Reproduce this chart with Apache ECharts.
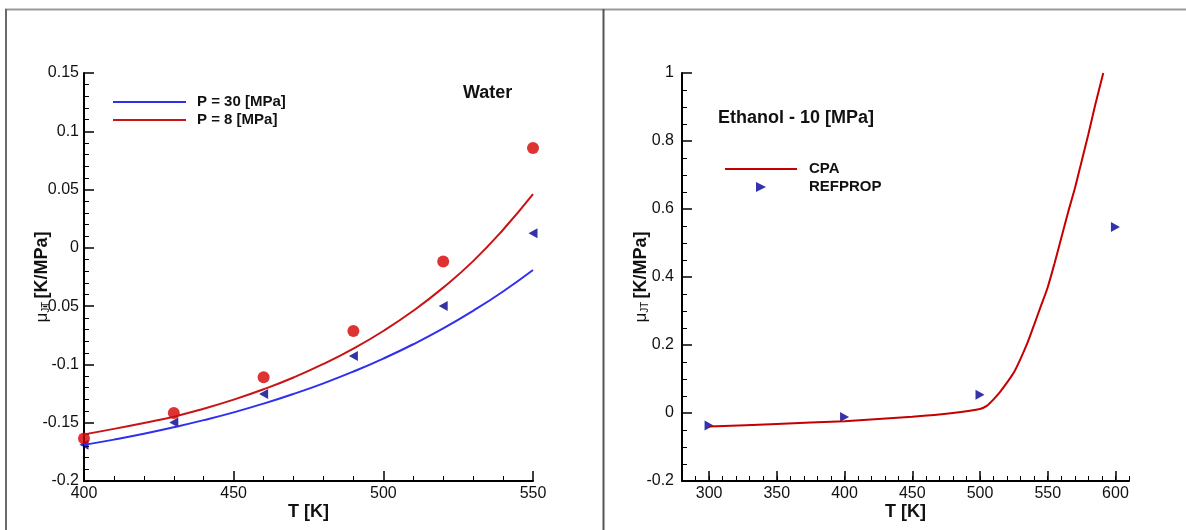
<!DOCTYPE html>
<html>
<head>
<meta charset="utf-8">
<script src="https://cdn.jsdelivr.net/npm/echarts@6/dist/echarts.min.js"></script>
<style>
html,body{margin:0;padding:0;background:#fff;}
#c{width:1186px;height:530px;}
</style>
</head>
<body>
<div id="c"></div>
<script>
// ---------- Data ----------
// Water, left panel
const waterLineT = [400,410,420,430,440,450,460,470,480,490,500,510,520,530,540,550];
const waterLine30 = [-0.169,-0.1645,-0.1595,-0.1539,-0.1478,-0.1411,-0.1336,-0.1253,-0.1162,-0.1061,-0.0950,-0.0827,-0.0691,-0.0540,-0.0374,-0.0190];
const waterLine8 = [-0.160,-0.1553,-0.1502,-0.1448,-0.1380,-0.1302,-0.1213,-0.1112,-0.0996,-0.0864,-0.0713,-0.0540,-0.0341,-0.0114,0.0155,0.046];
const waterRefT = [400,430,460,490,520,550];
const waterRef30 = [-0.169,-0.1498,-0.1254,-0.0928,-0.0499,0.0125];
const waterRef8 = [-0.1636,-0.1416,-0.1109,-0.0714,-0.0118,0.0856];

// Ethanol 10 MPa, right panel
const cpaT = [300,350,400,450,480,500,505,510,515,520,525,530,535,540,545,550,555,560,565,570,575,580,585,591];
const cpaMu = [-0.040,-0.032,-0.024,-0.011,0.000,0.012,0.021,0.040,0.063,0.090,0.119,0.160,0.206,0.260,0.315,0.370,0.440,0.515,0.590,0.660,0.740,0.820,0.905,1.0];
const refpropT = [300,400,500,600];
const refpropMu = [-0.037,-0.012,0.054,0.547];

// Tick labels
const ethanolXLabels = [300,350,400,450,500,550,600];

// Legend / series names
const leftNames = ['P = 30 [MPa]','P = 8 [MPa]'];
const rightNames = ['CPA','REFPROP'];

const zip = (a,b) => a.map((v,i) => [v,b[i]]);

const FONT = '"Liberation Sans", Arial, Helvetica, sans-serif';
const fmt = v => String(Math.round(v*100)/100);

const axisLineStyle = {show:true, onZero:false, lineStyle:{color:'#000', width:2}};
const labelStyle = (margin) => ({color:'#111', fontSize:16, fontFamily:FONT, margin:margin});
const yName = '{mu|μ}{sub|JT} {b|[K/MPa]}';
const yNameStyle = {
  color:'#111', fontFamily:FONT,
  rich:{
    mu:{fontSize:17, fontFamily:FONT, color:'#111', lineHeight:22, verticalAlign:'bottom'},
    sub:{fontSize:10, fontFamily:FONT, color:'#111', lineHeight:14, verticalAlign:'bottom'},
    b:{fontSize:18, fontWeight:'bold', fontFamily:FONT, color:'#111', lineHeight:22, verticalAlign:'bottom'}
  }
};
const xNameStyle = {color:'#111', fontSize:18, fontWeight:'bold', fontFamily:FONT};
const hiddenSym = {opacity:0};

const chart = echarts.init(document.getElementById('c'), null, {renderer:'canvas'});

const option = {
  backgroundColor:'#fff',
  animation:false,
  title:[
    {text:'Water', left:463, top:84, padding:0, textStyle:{fontSize:18, fontWeight:'bold', color:'#111', fontFamily:FONT}},
    {text:'Ethanol - 10 [MPa]', left:718, top:109, padding:0, textStyle:{fontSize:18, fontWeight:'bold', color:'#111', fontFamily:FONT}}
  ],
  grid:[
    {left:84, top:73, width:449, height:408, outerBoundsMode:'none'},
    {left:682, top:73, width:447, height:408, outerBoundsMode:'none'}
  ],
  legend:[
    {
      data:leftNames.map(n => ({name:n, itemStyle:hiddenSym})),
      orient:'vertical', left:112, top:93, padding:0,
      itemWidth:73, itemHeight:10, itemGap:0, selectedMode:false,
      textStyle:{fontSize:15, fontWeight:'bold', color:'#111', fontFamily:FONT, lineHeight:18, padding:[0,0,0,6]}
    },
    {
      data:[{name:rightNames[0], itemStyle:hiddenSym}, {name:rightNames[1]}],
      orient:'vertical', left:724, top:160, padding:0,
      itemWidth:72, itemHeight:10, itemGap:0, selectedMode:false,
      textStyle:{fontSize:15, fontWeight:'bold', color:'#111', fontFamily:FONT, lineHeight:18, padding:[0,0,0,7]}
    }
  ],
  xAxis:[
    {
      gridIndex:0, type:'value', position:'bottom', min:400, max:550, interval:50,
      axisLine:axisLineStyle,
      axisTick:{show:true, inside:true, length:10, lineStyle:{color:'#000', width:1.5}},
      minorTick:{show:true, splitNumber:5, length:5, lineStyle:{color:'#000', width:1}},
      splitLine:{show:false}, minorSplitLine:{show:false},
      axisLabel:Object.assign(labelStyle(5), {formatter:fmt}),
      name:'T [K]', nameLocation:'middle', nameGap:22, nameMoveOverlap:false, nameTextStyle:xNameStyle
    },
    {
      gridIndex:1, type:'value', position:'bottom', min:280, max:610, interval:10,
      axisLine:axisLineStyle,
      axisTick:{show:true, inside:true, length:5, lineStyle:{color:'#000', width:1}},
      splitLine:{show:false},
      axisLabel:Object.assign(labelStyle(5), {customValues:ethanolXLabels, formatter:fmt}),
      name:'T [K]', nameLocation:'middle', nameGap:22, nameMoveOverlap:false, nameTextStyle:xNameStyle
    },
    {
      gridIndex:1, type:'value', position:'bottom', offset:0, min:280, max:610,
      axisLine:{show:false, onZero:false},
      axisTick:{show:true, inside:true, length:10, customValues:ethanolXLabels, lineStyle:{color:'#000', width:1.5}},
      axisLabel:{show:false},
      splitLine:{show:false}
    }
  ],
  yAxis:[
    {
      gridIndex:0, type:'value', min:-0.2, max:0.15, interval:0.05,
      axisLine:axisLineStyle,
      axisTick:{show:true, inside:true, length:10, lineStyle:{color:'#000', width:1.5}},
      minorTick:{show:true, splitNumber:5, length:5, lineStyle:{color:'#000', width:1}},
      splitLine:{show:false}, minorSplitLine:{show:false},
      axisLabel:Object.assign(labelStyle(5), {formatter:fmt}),
      name:yName, nameLocation:'middle', nameRotate:90, nameGap:33, nameMoveOverlap:false, nameTextStyle:yNameStyle
    },
    {
      gridIndex:1, type:'value', min:-0.2, max:1, interval:0.2,
      axisLine:axisLineStyle,
      axisTick:{show:true, inside:true, length:10, lineStyle:{color:'#000', width:1.5}},
      minorTick:{show:true, splitNumber:4, length:5, lineStyle:{color:'#000', width:1}},
      splitLine:{show:false}, minorSplitLine:{show:false},
      axisLabel:Object.assign(labelStyle(8), {formatter:fmt}),
      name:yName, nameLocation:'middle', nameRotate:90, nameGap:32, nameMoveOverlap:false, nameTextStyle:yNameStyle
    }
  ],
  series:[
    {
      name:leftNames[0], type:'line', xAxisIndex:0, yAxisIndex:0,
      data:zip(waterLineT, waterLine30), symbol:'none', smooth:true,
      color:'#2f2ff0', lineStyle:{color:'#2f2ff0', width:2}
    },
    {
      name:leftNames[1], type:'line', xAxisIndex:0, yAxisIndex:0,
      data:zip(waterLineT, waterLine8), symbol:'none', smooth:true,
      color:'#c81414', lineStyle:{color:'#c81414', width:2}
    },
    {
      name:'REFPROP 30 MPa', type:'scatter', xAxisIndex:0, yAxisIndex:0,
      data:zip(waterRefT, waterRef30),
      symbol:'path://M10,0 L0,5 L10,10 Z', symbolSize:[9,10],
      itemStyle:{color:'#00008e'}
    },
    {
      name:'REFPROP 8 MPa', type:'scatter', xAxisIndex:0, yAxisIndex:0,
      data:zip(waterRefT, waterRef8),
      symbol:'circle', symbolSize:12,
      itemStyle:{color:'#d60000'}
    },
    {
      name:rightNames[0], type:'line', xAxisIndex:1, yAxisIndex:1,
      data:zip(cpaT, cpaMu), symbol:'none', smooth:0.25,
      color:'#c40000', lineStyle:{color:'#c40000', width:2}
    },
    {
      name:rightNames[1], type:'scatter', xAxisIndex:1, yAxisIndex:1,
      data:zip(refpropT, refpropMu),
      symbol:'path://M0,0 L10,5 L0,10 Z', symbolSize:[9,10], symbolKeepAspect:true,
      itemStyle:{color:'#00009a'}
    }
  ],
  graphic:[
    {type:'line', silent:true, shape:{x1:5, y1:9.5, x2:1186, y2:9.5}, style:{stroke:'#9a9a9a', lineWidth:2}},
    {type:'line', silent:true, shape:{x1:6, y1:9, x2:6, y2:530}, style:{stroke:'#6a6a6a', lineWidth:2}},
    {type:'line', silent:true, shape:{x1:603.5, y1:9, x2:603.5, y2:530}, style:{stroke:'#555', lineWidth:2}}
  ]
};
chart.setOption(option);
</script>
</body>
</html>
